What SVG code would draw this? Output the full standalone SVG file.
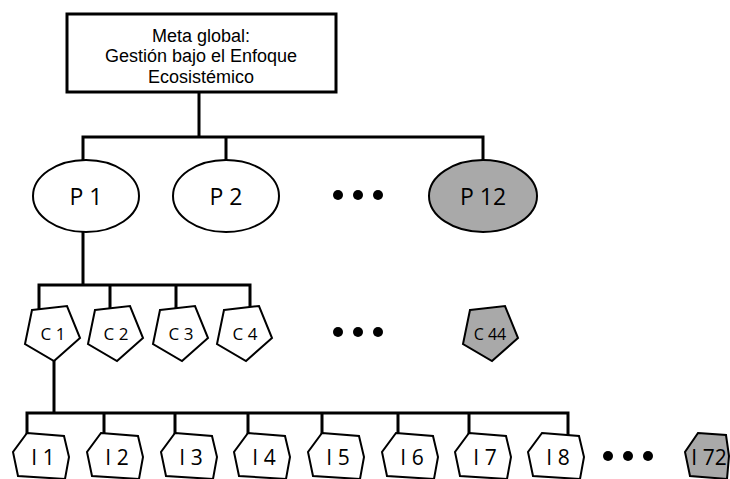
<svg xmlns="http://www.w3.org/2000/svg" width="730" height="479" viewBox="0 0 730 479">
<style>
.ln{fill:none;stroke:#000;stroke-width:3;stroke-linecap:square}
.sh{fill:#fff;stroke:#000;stroke-width:2;stroke-linejoin:miter}
.gr{fill:#a9a9a9}
text{font-family:"Open Sans","DejaVu Sans",sans-serif;fill:#000}
.t{font-family:"Liberation Sans",Arial,sans-serif;font-size:18px;text-anchor:middle}
.p{font-size:23px;text-anchor:middle}
.c{font-size:17px;text-anchor:middle}
.i{font-size:21px;text-anchor:middle}
</style>
<defs>
<polygon id="pent" points="7,4 42,0 55,32 29,55 0,38"/>
<polygon id="hex" points="14,0 51,3 56,24 52,46 5,43 0,19"/>
</defs>
<g id="connectors">
<path class="ln" d="M199,92 V137 M83,137 H483 M83,137 V160 M226,137 V160 M483,137 V160"/>
<path class="ln" d="M83,232 V285 M39,285 H250 M39,285 V308 M110,285 V308 M176,285 V308 M250,285 V307"/>
<path class="ln" d="M54,361 V413 M27,413 H568 M27,413 V433 M104,413 V433 M175,413 V433 M248,413 V433 M322,413 V433 M398,413 V433 M469,413 V433 M568,413 V434"/>
</g>
<g id="meta">
<rect x="67" y="14" width="269" height="78" fill="#fff" stroke="#000" stroke-width="3"/>
<text class="t" x="201" y="41.5">Meta global:</text>
<text class="t" x="201" y="62">Gestión bajo el Enfoque</text>
<text class="t" x="201" y="82.5">Ecosistémico</text>
</g>
<g id="P1"><ellipse class="sh" cx="86" cy="196" rx="53" ry="36"/><text class="p" x="86" y="205">P 1</text></g>
<g id="P2"><ellipse class="sh" cx="226" cy="196" rx="53" ry="36"/><text class="p" x="226" y="205">P 2</text></g>
<g id="dots1"><circle cx="338" cy="195" r="5"/><circle cx="358" cy="195" r="5"/><circle cx="378" cy="195" r="5"/></g>
<g id="P12"><ellipse class="sh gr" cx="483" cy="196" rx="54" ry="36"/><text class="p" x="483" y="205">P 12</text></g>
<g id="C1"><use href="#pent" class="sh" x="25" y="306"/><text class="c" x="53" y="340">C 1</text></g>
<g id="C2"><use href="#pent" class="sh" x="88" y="306"/><text class="c" x="116" y="340">C 2</text></g>
<g id="C3"><use href="#pent" class="sh" x="153" y="306"/><text class="c" x="181" y="340">C 3</text></g>
<g id="C4"><use href="#pent" class="sh" x="217" y="306"/><text class="c" x="245" y="340">C 4</text></g>
<g id="dots2"><circle cx="338" cy="332" r="5"/><circle cx="358" cy="332" r="5"/><circle cx="378" cy="332" r="5"/></g>
<g id="C44"><use href="#pent" class="sh gr" x="463" y="306"/><text class="c" x="490" y="340" style="font-size:16px">C 44</text></g>
<g id="I1"><use href="#hex" class="sh" x="13" y="433"/><text class="i" x="43" y="465">I 1</text></g>
<g id="I2"><use href="#hex" class="sh" x="87" y="433"/><text class="i" x="117" y="465">I 2</text></g>
<g id="I3"><use href="#hex" class="sh" x="161" y="433"/><text class="i" x="191" y="465">I 3</text></g>
<g id="I4"><use href="#hex" class="sh" x="234" y="433"/><text class="i" x="264" y="465">I 4</text></g>
<g id="I5"><use href="#hex" class="sh" x="308" y="433"/><text class="i" x="338" y="465">I 5</text></g>
<g id="I6"><use href="#hex" class="sh" x="382" y="433"/><text class="i" x="412" y="465">I 6</text></g>
<g id="I7"><use href="#hex" class="sh" x="455" y="433"/><text class="i" x="485" y="465">I 7</text></g>
<g id="I8"><use href="#hex" class="sh" x="528" y="433"/><text class="i" x="558" y="465">I 8</text></g>
<g id="dots3"><circle cx="608" cy="456" r="5"/><circle cx="628" cy="456" r="5"/><circle cx="648" cy="456" r="5"/></g>
<g id="I72"><polygon class="sh gr" points="698,433 726,435 729,456 727,479 690,476 685,452"/><text class="i" x="709" y="465">I 72</text></g>
</svg>
